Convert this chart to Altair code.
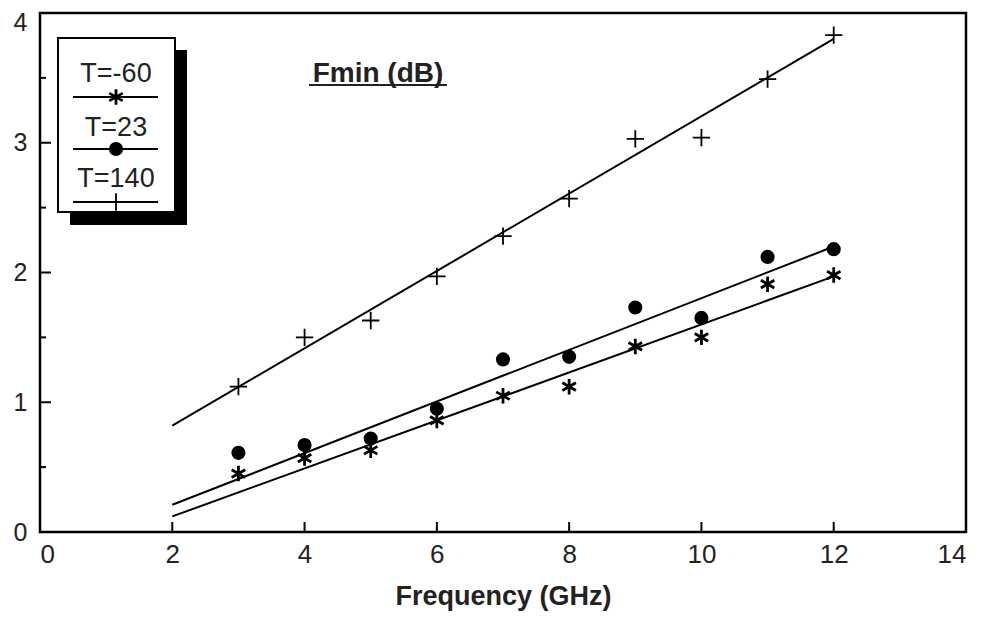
import altair as alt
import pandas as pd

# ---- data ----
freq = [3, 4, 5, 6, 7, 8, 9, 10, 11, 12]
t_m60 = [0.45, 0.57, 0.63, 0.86, 1.05, 1.12, 1.43, 1.50, 1.91, 1.98]
t_23 = [0.61, 0.67, 0.72, 0.95, 1.33, 1.35, 1.73, 1.65, 2.12, 2.18]
t_140 = [1.12, 1.50, 1.63, 1.97, 2.28, 2.57, 3.03, 3.04, 3.49, 3.83]

fit_x = [2, 12]
fit_m60 = [0.12, 1.97]
fit_23 = [0.21, 2.20]
fit_140 = [0.82, 3.80]

x_ticks = [2, 4, 6, 8, 10, 12]
x_labels = [0, 2, 4, 6, 8, 10, 12, 14]
y_major = [1, 2, 3]
y_labels = [0, 1, 2, 3, 4]
y_minor = [0.5, 1.5, 2.5, 3.5]

series_names = ["T=-60", "T=23", "T=140"]

W, H = 926, 519
FONT = "Liberation Sans"

ASTER = "M0,-1L0,1M-0.87,-0.5L0.87,0.5M-0.87,0.5L0.87,-0.5"
PLUS = "M-1,0L1,0M0,-1L0,1"

xs = alt.Scale(domain=[0, 14], nice=False)
ys = alt.Scale(domain=[0, 4], nice=False)

x_axis = alt.Axis(values=x_labels, format="d", title="Frequency (GHz)", domain=False, ticks=False,
                  grid=False, labelFontSize=26, labelPadding=9, labelColor="#222",
                  labelFont=FONT, titleFont=FONT, titleFontSize=27, titleFontWeight="bold",
                  titleColor="#222", titlePadding=16)
y_axis = alt.Axis(values=y_labels, format="d", title=None, domain=False, ticks=False, grid=False,
                  labelFontSize=25, labelPadding=13, labelColor="#222", labelFont=FONT,
                  labelOffset={"condition": {"test": "datum.value == 4", "value": 9}, "value": 0})

layers = []

# axes carrier (invisible points)
axdf = pd.DataFrame({"x": [0, 14], "y": [0, 4]})
layers.append(alt.Chart(axdf).mark_point(opacity=0).encode(
    x=alt.X("x:Q", scale=xs, axis=x_axis), y=alt.Y("y:Q", scale=ys, axis=y_axis)))

one = pd.DataFrame({"a": [0]})

# plot frame
layers.append(alt.Chart(one).mark_rect(filled=False, color="black", strokeWidth=2.5).encode(
    x=alt.value(0), x2=alt.value(W), y=alt.value(0), y2=alt.value(H)))

# inward ticks
layers.append(alt.Chart(pd.DataFrame({"t": x_ticks})).mark_rule(color="black", strokeWidth=2).encode(
    x=alt.X("t:Q", scale=xs), y=alt.value(H), y2=alt.value(H - 10)))
layers.append(alt.Chart(pd.DataFrame({"t": y_major})).mark_rule(color="black", strokeWidth=2).encode(
    y=alt.Y("t:Q", scale=ys), x=alt.value(0), x2=alt.value(11)))
layers.append(alt.Chart(pd.DataFrame({"t": y_minor})).mark_rule(color="black", strokeWidth=2).encode(
    y=alt.Y("t:Q", scale=ys), x=alt.value(0), x2=alt.value(6)))

# fit lines
for fy in (fit_m60, fit_23, fit_140):
    df = pd.DataFrame({"x": fit_x, "y": fy})
    layers.append(alt.Chart(df).mark_line(color="black", strokeWidth=2).encode(
        x=alt.X("x:Q", scale=xs), y=alt.Y("y:Q", scale=ys)))

# points
pts = [
    (t_m60, ASTER, False, 240, 2.8),
    (t_23, "circle", True, 200, 0),
    (t_140, PLUS, False, 300, 1.8),
]
for vals, shape, filled, size, sw in pts:
    df = pd.DataFrame({"x": freq, "y": vals})
    layers.append(alt.Chart(df).mark_point(shape=shape, filled=filled, size=size, color="black",
                                           strokeWidth=sw, opacity=1).encode(
        x=alt.X("x:Q", scale=xs), y=alt.Y("y:Q", scale=ys)))

# caption "Fmin (dB)" with underline
layers.append(alt.Chart(one).mark_text(text="Fmin (dB)", font=FONT, fontSize=28, fontWeight="bold",
                                       color="#222", align="center", baseline="middle").encode(
    x=alt.value(338), y=alt.value(61)))
layers.append(alt.Chart(one).mark_rule(color="#222", strokeWidth=2).encode(
    x=alt.value(269), x2=alt.value(407), y=alt.value(72)))

# custom legend: shadow + box
layers.append(alt.Chart(one).mark_rect(color="black").encode(
    x=alt.value(30), x2=alt.value(147), y=alt.value(37), y2=alt.value(212)))
layers.append(alt.Chart(one).mark_rect(fill="white", stroke="black", strokeWidth=2).encode(
    x=alt.value(18), x2=alt.value(135), y=alt.value(25), y2=alt.value(199)))

leg_text_y = [61, 115, 166]
leg_line_y = [84, 136, 189]
for i, name in enumerate(series_names):
    layers.append(alt.Chart(one).mark_text(text=name, font=FONT, fontSize=27, color="#222",
                                           align="center", baseline="middle").encode(
        x=alt.value(76), y=alt.value(leg_text_y[i])))
    layers.append(alt.Chart(one).mark_rule(color="black", strokeWidth=2).encode(
        x=alt.value(33), x2=alt.value(118), y=alt.value(leg_line_y[i])))
    shape, filled, size, sw = pts[i][1], pts[i][2], pts[i][3], pts[i][4]
    layers.append(alt.Chart(one).mark_point(shape=shape, filled=filled, size=size, color="black",
                                           strokeWidth=sw, opacity=1).encode(
        x=alt.value(76), y=alt.value(leg_line_y[i])))

chart = alt.layer(*layers).properties(
    width=W, height=H,
    background="white",
    autosize=alt.AutoSizeParams(type="none"),
    padding={"left": 32, "top": 5, "right": 11, "bottom": 79},
).configure_view(strokeWidth=0)

chart.save("out.html", embed_options={"renderer": "svg", "actions": False})
